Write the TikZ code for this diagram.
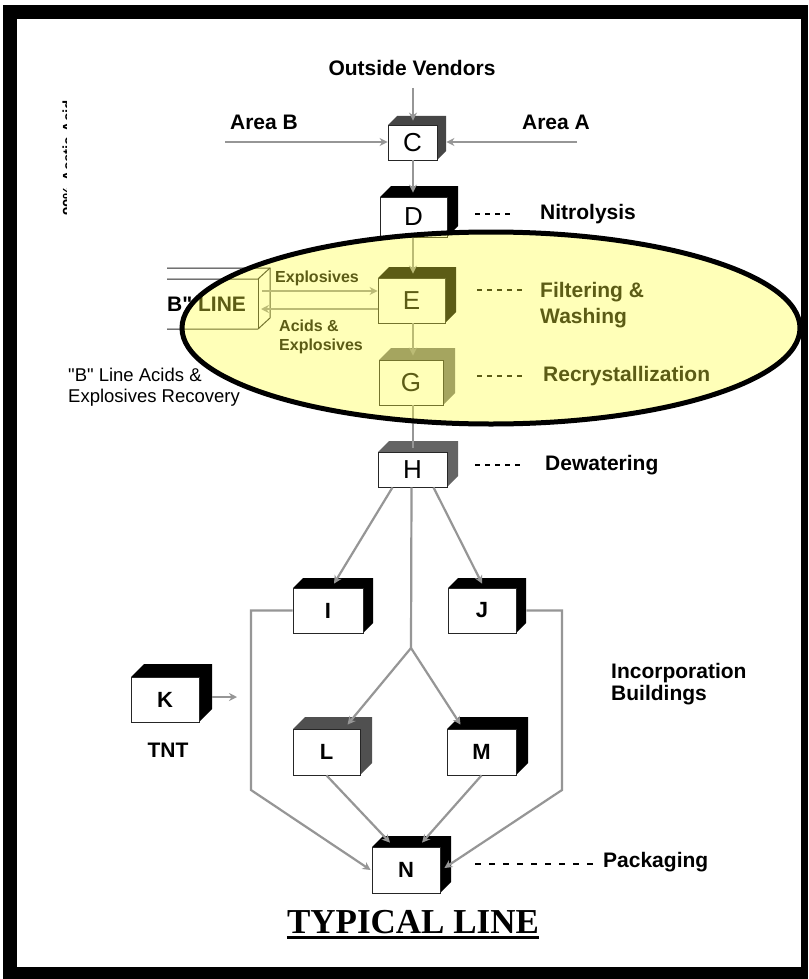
\documentclass[tikz,border=0pt]{standalone}
\usepackage{fontspec}
\setmainfont{Liberation Sans}[Ligatures=TeXOff]
\newfontfamily\timesf{Liberation Serif}
\usetikzlibrary{arrows.meta}
\definecolor{connc}{RGB}{150,150,150}
\definecolor{ovl}{RGB}{255,255,60}
\definecolor{faceC}{RGB}{70,70,70}
\definecolor{faceG}{RGB}{115,115,115}
\definecolor{faceH}{RGB}{100,100,100}
\definecolor{faceL}{RGB}{80,80,80}
\newcommand\cubebox[8]{%
  \fill[#7] (#2,#3) -- (#2+#6,#3-#6) -- (#4+#6,#3-#6) -- (#4+#6,#5-#6) -- (#4,#5) -- (#4,#3) -- cycle;
  \node[boxfront, minimum width={(#4-#2)*1pt}, minimum height={(#5-#3)*1pt}] (#1) at ({(#2+#4)/2},{(#3+#5)/2}) {#8};
}
\begin{document}
\begin{tikzpicture}[x=1pt,y=-1pt,
  boxfront/.style={draw=black!85, line width=0.8pt, fill=white, inner sep=0pt},
  conn/.style={draw=connc, line width=2.2pt, -{Stealth[length=8pt,width=8pt]}, color=connc},
  plainconn/.style={draw=connc, line width=2.2pt},
  dashline/.style={draw=black, line width=1.3pt, dash pattern=on 5pt off 5pt},
  lab/.style={font=\bfseries\fontsize{21}{24}\selectfont, inner sep=0pt},
  labsm/.style={font=\bfseries\fontsize{16}{18}\selectfont, inner sep=0pt, anchor=west},
  labreg/.style={font=\fontsize{18.5}{21}\selectfont, inner sep=0pt, anchor=west}]
\useasboundingbox (0,0) rectangle (808,979);
% frame
\fill[black] (3,5) rectangle (808,979);
\fill[white] (17,19) rectangle (801,967);

% rotated clipped text
\begin{scope}
\clip (55,95) rectangle (66,222);
\node[rotate=90, font=\bfseries\fontsize{15}{17}\selectfont, inner sep=0pt] (acid) at (68,158) {90\% Acetic Acid};
\end{scope}

% boxes
\cubebox{C}{388}{125}{437}{160}{9}{faceC}{\fontsize{26}{28}\selectfont C}
\cubebox{D}{380}{197}{447}{237}{11}{black}{\fontsize{26}{28}\selectfont D}
\cubebox{E}{378}{278}{445}{323}{11}{black}{\fontsize{26}{28}\selectfont E}
\cubebox{G}{379}{360}{443}{405}{12}{faceG}{\fontsize{26}{28}\selectfont G}
\cubebox{H}{378}{452}{447}{487}{11}{faceH}{\fontsize{26}{28}\selectfont H}
\cubebox{I}{293}{588}{363}{633}{10}{black}{\bfseries\fontsize{22}{24}\selectfont I}
\cubebox{J}{448}{588}{516}{633}{10}{black}{\bfseries\fontsize{22}{24}\selectfont J}
\cubebox{K}{131}{677}{199}{722}{13}{black}{\bfseries\fontsize{22}{24}\selectfont K}
\cubebox{L}{293}{729}{360}{775}{12}{faceL}{\bfseries\fontsize{22}{24}\selectfont L}
\cubebox{M}{447}{729}{516}{775}{12}{black}{\bfseries\fontsize{22}{24}\selectfont M}
\cubebox{N}{372}{847}{440}{893}{11}{black}{\bfseries\fontsize{22}{24}\selectfont N}

% "B" LINE box (cut off at left)
\draw[black!85, line width=1pt] (167,268) -- (270,268) -- (270,318) -- (258,329) -- (167,329);
\draw[black!85, line width=1pt] (167,279) -- (258,279) -- (270,268);
\draw[black!85, line width=1pt] (258,279) -- (258,329);
\node[lab, anchor=west] (bline) at (167,304) {B" LINE};

% labels
\node[lab] (ov) at (412,68) {Outside Vendors};
\node[lab] (areaB) at (264,122) {Area B};
\node[lab] (areaA) at (556,122) {Area A};
\node[lab, anchor=west] (nitro) at (540,214) {Nitrolysis};
\node[lab, anchor=west] (filt) at (540,292) {Filtering \&};
\node[lab, anchor=west] (wash) at (540,318) {Washing};
\node[lab, anchor=west] (recr) at (543,376) {Recrystallization};
\node[lab, anchor=west] (dewa) at (545,465) {Dewatering};
\node[lab, anchor=west] (inc1) at (611,673) {Incorporation};
\node[lab, anchor=west] (inc2) at (611,695) {Buildings};
\node[lab, anchor=west] (pack) at (603,862) {Packaging};
\node[lab] (tnt) at (168,750) {TNT};
\node[labsm] (lexp) at (275,278) {Explosives};
\node[labsm] (lacid1) at (279,326) {Acids \&};
\node[labsm] (lacid2) at (279,346) {Explosives};
\node[labreg] (rec1) at (68,375) {"B" Line Acids \&};
\node[labreg] (rec2) at (68,398) {Explosives Recovery};
\node[font=\timesf\bfseries\fontsize{35}{38}\selectfont, inner sep=0pt] (title) at (413,922) {TYPICAL LINE};
\draw[line width=2.6pt] ([yshift=-4pt]title.base west) -- ([yshift=-4pt]title.base east);

% dashed leaders
\draw[dashline] (475,214) -- (514,214);
\draw[dashline] (477,290) -- (524,290);
\draw[dashline] (477,376) -- (524,376);
\draw[dashline] (475,465) -- (524,465);
\draw[dashline, dash pattern=on 6pt off 8pt] (475,864) -- (598,864);

% connectors
\coordinate (ovs) at (413,88);
\draw[conn] (ovs) -- ([yshift=4pt]ovs |- C.north);
\coordinate (aBs) at (225,142);
\draw[conn] (aBs) -- (aBs -| C.west);
\coordinate (aAs) at (577,142);
\draw[conn] (aAs) -- ([xshift=9pt]aAs -| C.east);
\draw[conn] (C.south -| ovs) -- ([yshift=4pt]ovs |- D.north);
\draw[conn] (ovs |- D.south) -- ([yshift=4pt]ovs |- E.north);
\draw[conn] (ovs |- E.south) -- ([yshift=4pt]ovs |- G.north);
\draw[plainconn] (ovs |- G.south) -- ([yshift=4pt]ovs |- H.north);
\coordinate (bx1) at (262,291);
\coordinate (bx2) at (261,309);
\draw[conn, line width=1.8pt] (bx1) -- (bx1 -| E.west);
\draw[conn, line width=1.8pt] (bx2 -| E.west) -- (bx2);
\draw[conn] ([xshift=-20pt]H.south) -- ([xshift=6pt,yshift=4pt]I.north);
\draw[conn] ([xshift=21pt]H.south) -- ([yshift=4pt]J.north);
\coordinate (jn) at (411,648);
\draw[plainconn] ([xshift=-1pt]H.south) -- (jn);
\draw[conn] (jn) -- ([xshift=21pt,yshift=4pt]L.north);
\draw[conn] (jn) -- ([xshift=-21pt,yshift=4pt]M.north);
\coordinate (lc) at (251,790);
\coordinate (rc) at (562,790);
\draw[conn] (I.west) -| (lc) -- ([xshift=-1pt]N.west);
\draw[conn] ([xshift=10pt]J.east) -| (rc) -- ([xshift=4pt,yshift=2pt]N.east);
\draw[conn] (L.south) -- ([xshift=-16pt,yshift=4pt]N.north);
\draw[conn] (M.south) -- ([xshift=16pt,yshift=4pt]N.north);
\coordinate (kend) at (237,697);
\draw[conn, line width=1.8pt] ([xshift=13pt]K.east |- kend) -- (kend);

% highlight ellipse
\fill[ovl, fill opacity=0.36] (491,328) ellipse [x radius=309pt, y radius=96pt];
\draw[black, line width=5pt] (491,328) ellipse [x radius=309pt, y radius=96pt];
\end{tikzpicture}
\end{document}
